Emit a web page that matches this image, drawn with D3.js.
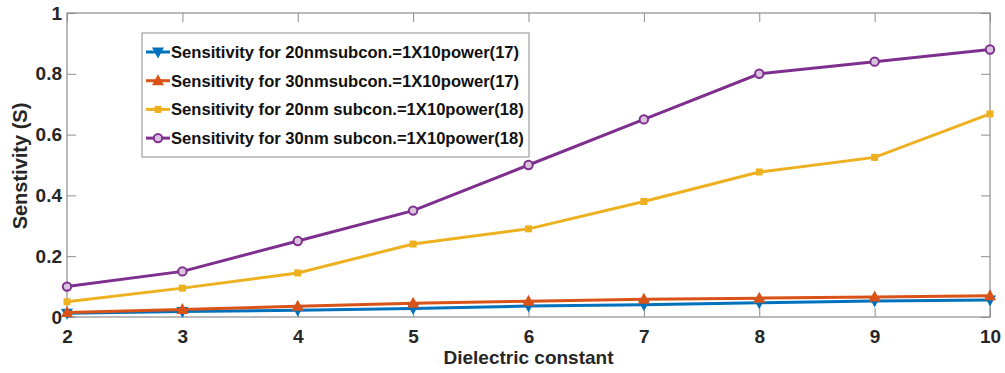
<!DOCTYPE html>
<html>
<head>
<meta charset="utf-8">
<script src="https://cdn.jsdelivr.net/npm/d3@7"></script>
<style>
  body { margin: 0; background: #fff; }
  text { font-family: "Liberation Sans", Arial, sans-serif; font-weight: bold; }
</style>
</head>
<body>
<svg id="chart" width="1005" height="373"></svg>
<script>
// dielectric constant on the x axis
var dielectric = [2, 3, 4, 5, 6, 7, 8, 9, 10];

var sens_20nm_17 = [0.012, 0.018, 0.022, 0.028, 0.036, 0.040, 0.047, 0.053, 0.056];
var sens_30nm_17 = [0.015, 0.025, 0.035, 0.045, 0.052, 0.058, 0.062, 0.066, 0.070];
var sens_20nm_18 = [0.05, 0.095, 0.145, 0.24, 0.29, 0.38, 0.477, 0.525, 0.668];
var sens_30nm_18 = [0.10, 0.15, 0.25, 0.35, 0.50, 0.65, 0.80, 0.84, 0.88];

var series_names = [
  'Sensitivity for 20nmsubcon.=1X10power(17)',
  'Sensitivity for 30nmsubcon.=1X10power(17)',
  'Sensitivity for 20nm subcon.=1X10power(18)',
  'Sensitivity for 30nm subcon.=1X10power(18)'
];

var y_ticks = [0, 0.2, 0.4, 0.6, 0.8, 1];

var series = [
  {name: series_names[0], values: sens_20nm_17, color: '#0072bd', marker: 'down'},
  {name: series_names[1], values: sens_30nm_17, color: '#d95319', marker: 'up'},
  {name: series_names[2], values: sens_20nm_18, color: '#edb120', marker: 'square'},
  {name: series_names[3], values: sens_30nm_18, color: '#7e2f8e', marker: 'circle'}
];

var plot_left = 67, plot_right = 990, plot_top = 13, plot_bottom = 317;
var svg = d3.select('#chart');

var x = d3.scaleLinear().domain([2, 10]).range([plot_left, plot_right]);
var y = d3.scaleLinear().domain([0, 1]).range([plot_bottom, plot_top]);

var axis_color = '#8c8c8c';
var tick_len = 9;

// box
svg.append('rect')
   .attr('x', plot_left).attr('y', plot_top)
   .attr('width', plot_right - plot_left).attr('height', plot_bottom - plot_top)
   .attr('fill', 'none').attr('stroke', axis_color).attr('stroke-width', 1.2);

// bottom axis, ticks inward
var xAxis = svg.append('g')
   .attr('transform', 'translate(0,' + plot_bottom + ')')
   .call(d3.axisBottom(x).tickValues(dielectric).tickSize(-tick_len).tickPadding(6));
// left axis
var yAxis = svg.append('g')
   .attr('transform', 'translate(' + plot_left + ',0)')
   .call(d3.axisLeft(y).tickValues(y_ticks).tickFormat(d3.format('')).tickSize(-tick_len).tickPadding(6));
// right & top ticks only
svg.append('g')
   .attr('transform', 'translate(' + plot_right + ',0)')
   .call(d3.axisRight(y).tickValues(y_ticks).tickSize(-tick_len).tickFormat(''));
svg.append('g')
   .attr('transform', 'translate(0,' + plot_top + ')')
   .call(d3.axisTop(x).tickValues(dielectric).tickSize(-tick_len).tickFormat(''));

svg.selectAll('.domain').remove();
svg.selectAll('.tick line').attr('stroke', axis_color);
svg.selectAll('.tick text')
   .attr('fill', '#262626')
   .style('font-size', '19px')
   .style('font-family', '"Liberation Sans", Arial, sans-serif')
   .style('font-weight', 'bold');
xAxis.selectAll('.tick text').attr('y', 13).attr('dy', '0.71em');
yAxis.selectAll('.tick text').attr('x', -5);

// axis labels
svg.append('text')
   .attr('x', (plot_left + plot_right) / 2).attr('y', 364)
   .attr('text-anchor', 'middle')
   .attr('fill', '#262626')
   .style('font-size', '19px')
   .text('Dielectric constant');

svg.append('text')
   .attr('transform', 'translate(27,' + 166 + ') rotate(-90)')
   .attr('text-anchor', 'middle')
   .attr('fill', '#262626')
   .style('font-size', '20px')
   .text('Senstivity (S)');

function drawMarker(g, type, color, cx, cy){
  if (type == 'circle'){
    g.append('circle').attr('cx', cx).attr('cy', cy).attr('r', 4.2)
     .attr('fill', '#d9c3dd').attr('stroke', color).attr('stroke-width', 2);
  }
  else if (type == 'square'){
    g.append('rect').attr('x', cx - 3.5).attr('y', cy - 3.5).attr('width', 7).attr('height', 7)
     .attr('fill', color);
  }
  else {
    var s = type == 'up' ? -1 : 1;
    g.append('path')
     .attr('d', 'M' + (cx - 6) + ',' + (cy - s * 4.5) + 'L' + (cx + 6) + ',' + (cy - s * 4.5) + 'L' + cx + ',' + (cy + s * 6.5) + 'Z')
     .attr('fill', color);
  }
}

var line = d3.line()
  .x(function(d, i){ return x(dielectric[i]); })
  .y(function(d){ return y(d); });

series.forEach(function(s){
  var g = svg.append('g');
  g.append('path')
   .attr('d', line(s.values))
   .attr('fill', 'none')
   .attr('stroke', s.color)
   .attr('stroke-width', 3);
  s.values.forEach(function(v, i){
    drawMarker(g, s.marker, s.color, x(dielectric[i]), y(v));
  });
});

// legend
var leg = svg.append('g');
leg.append('rect')
   .attr('x', 142).attr('y', 33).attr('width', 387).attr('height', 124)
   .attr('fill', '#fff').attr('stroke', axis_color).attr('stroke-width', 1);

series.forEach(function(s, i){
  var ly = 52 + i * 28.7;
  leg.append('line')
     .attr('x1', 146).attr('x2', 170).attr('y1', ly).attr('y2', ly)
     .attr('stroke', s.color).attr('stroke-width', 3);
  drawMarker(leg, s.marker, s.color, 158, ly);
  leg.append('text')
     .attr('x', 171).attr('y', ly).attr('dy', '0.35em')
     .attr('fill', '#111')
     .style('font-size', '16.6px')
     .text(s.name);
});
</script>
</body>
</html>
